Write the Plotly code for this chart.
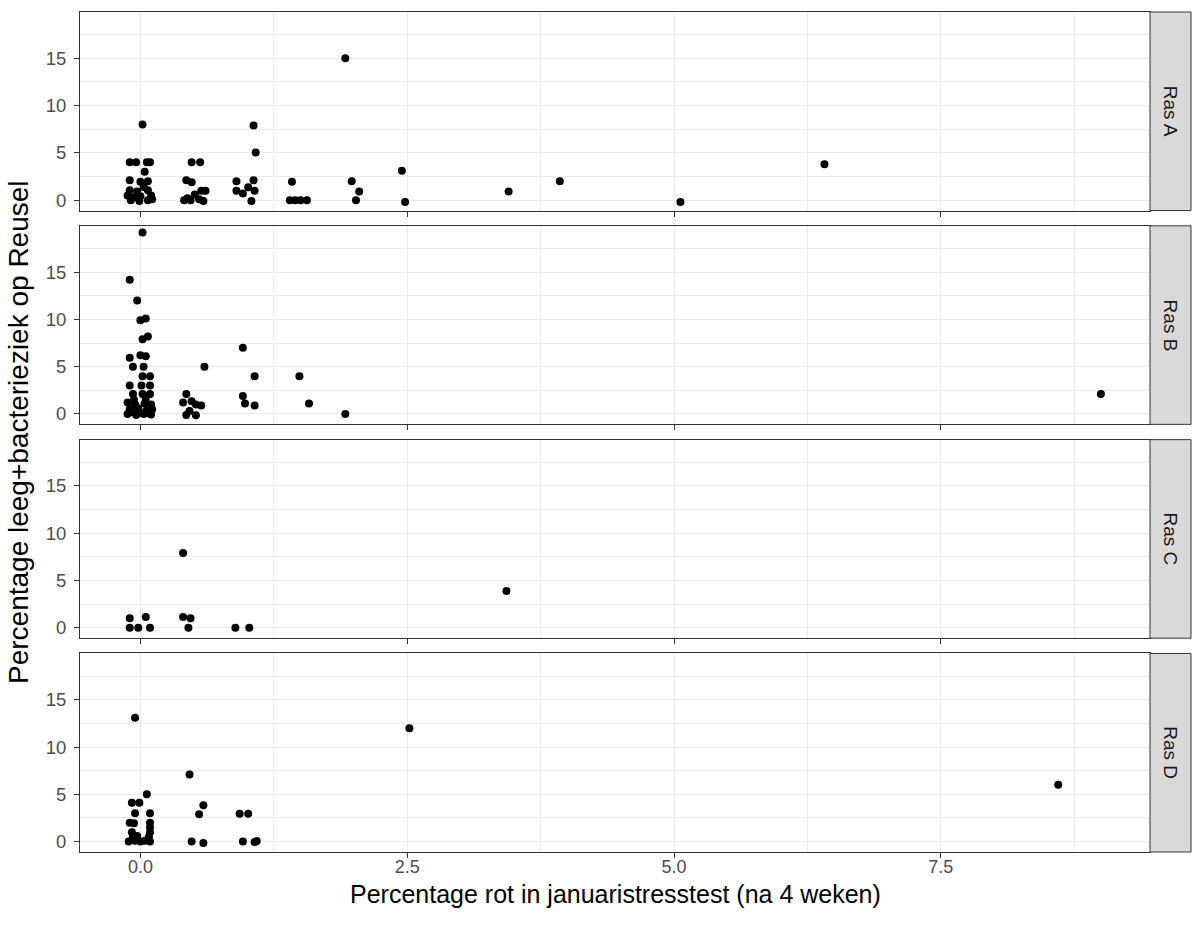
import plotly.graph_objects as go
from plotly.subplots import make_subplots

# Facet labels (one panel per variety)
ras_labels = ["Ras A", "Ras B", "Ras C", "Ras D"]

# Percentage rot (x) and percentage leeg+bacterieziek (y), jittered observations per variety
rot_a = [-0.10, -0.04, 0.06, 0.09, 0.04, 0.02, -0.10, 0.00, 0.07,
         -0.10, -0.03, 0.07, 0.10, -0.06, 0.03, -0.09, -0.01, 0.07, 0.11, 0.00, -0.12,
         0.48, 0.56, 0.43, 0.48, 0.57, 0.61, 0.41, 0.47, 0.55, 0.59, 0.51, 0.44,
         1.06, 1.08, 0.90, 1.06, 0.90, 0.96, 1.01, 1.07, 1.04,
         1.42, 1.40, 1.45, 1.50, 1.56,
         1.92, 1.98, 2.05, 2.02, 2.45, 2.48, 3.45, 3.93, 5.06, 6.41]
ziek_a = [4.0, 4.0, 4.0, 4.0, 3.0, 8.0, 2.1, 1.95, 2.0,
          1.05, 0.9, 1.05, 0.5, 0.3, 1.4, 0.0, -0.1, 0.0, 0.1, 0.4, 0.5,
          4.0, 4.0, 2.1, 1.9, 1.0, 1.0, 0.0, 0.0, 0.1, -0.1, 0.6, 0.2,
          7.9, 5.05, 2.0, 2.1, 1.0, 0.7, 1.35, 1.0, -0.1,
          1.95, 0.0, 0.0, 0.0, 0.0,
          15.0, 2.0, 0.9, 0.0, 3.1, -0.2, 0.9, 2.0, -0.2, 3.8]

rot_b = [0.02, -0.10, -0.03, 0.00, 0.05, 0.02, 0.07, -0.10, 0.00, 0.05, -0.07, 0.03,
         0.02, 0.09, -0.10, 0.01, 0.09, -0.07, 0.02, 0.09,
         -0.12, -0.05, 0.04, 0.10, -0.10, -0.02, 0.06, 0.11, -0.12, -0.04, 0.03, 0.10,
         -0.08, 0.00, 0.07, -0.06, 0.05,
         0.43, 0.40, 0.48, 0.57, 0.52, 0.43, 0.52, 0.46, 0.60,
         0.96, 1.07, 0.96, 0.98, 1.07, 1.49, 1.58, 1.92, 9.00]
ziek_b = [19.2, 14.2, 12.0, 9.9, 10.1, 7.9, 8.2, 5.95, 6.2, 6.1, 5.0, 5.0,
          4.0, 4.0, 3.0, 3.0, 3.0, 2.1, 2.1, 2.1,
          1.2, 1.0, 1.1, 1.0, 0.5, 0.6, 0.4, 0.5, 0.0, -0.1, 0.0, -0.05,
          0.2, 0.15, 0.1, 1.5, 1.6,
          2.1, 1.2, 1.35, 0.9, 1.0, -0.1, -0.15, 0.3, 5.0,
          7.0, 4.0, 1.9, 1.1, 0.9, 4.0, 1.1, 0.0, 2.1]

rot_c = [-0.10, 0.05, -0.10, -0.02, 0.09, 0.40, 0.40, 0.47, 0.45, 0.89, 1.02, 3.43]
ziek_c = [1.0, 1.15, 0.0, 0.0, 0.0, 7.9, 1.15, 1.0, 0.0, 0.0, 0.0, 3.9]

rot_d = [-0.05, 0.46, 0.06, -0.08, -0.01, 0.59, -0.05, 0.09, 0.55, 0.93, 1.01,
         -0.10, -0.06, 0.09, -0.08, 0.09, 0.09,
         -0.11, -0.05, 0.00, 0.04, 0.09, -0.07, -0.03, 0.08,
         0.48, 0.59, 0.96, 1.07, 1.09, 2.52, 8.60]
ziek_d = [13.1, 7.1, 5.0, 4.1, 4.1, 3.85, 3.0, 3.0, 2.9, 2.95, 2.95,
          2.0, 1.95, 2.0, 1.0, 1.0, 1.5,
          0.0, 0.1, 0.0, 0.1, 0.0, 0.5, 0.6, 0.5,
          0.0, -0.15, 0.0, -0.05, 0.05, 12.0, 6.0]

rot_series = [rot_a, rot_b, rot_c, rot_d]
ziek_series = [ziek_a, ziek_b, ziek_c, ziek_d]

# Axis ticks
x_ticks = [0.0, 2.5, 5.0, 7.5]
x_tick_text = ["0.0", "2.5", "5.0", "7.5"]
y_ticks = [0, 5, 10, 15]
y_tick_text = ["0", "5", "10", "15"]

x_title = "Percentage rot in januaristresstest (na 4 weken)"
y_title = "Percentage leeg+bacterieziek op Reusel"

FONT = "Liberation Sans, Arial, sans-serif"
BORDER = "#333333"
GRID = "#EBEBEB"

W, H = 1196, 926
ML, MR, MT, MB = 80, 46, 12, 74
plot_w = W - ML - MR
plot_h = H - MT - MB
gap_px = 15.3

fig = make_subplots(rows=4, cols=1, shared_xaxes=True,
                    vertical_spacing=gap_px / plot_h)

for i, (xs, ys) in enumerate(zip(rot_series, ziek_series)):
    fig.add_trace(go.Scatter(x=xs, y=ys, mode="markers",
                             marker=dict(color="black", size=8, line=dict(width=0)),
                             showlegend=False, hoverinfo="skip"),
                  row=i + 1, col=1)

fig.update_xaxes(range=[-0.566, 9.46], tickmode="array", tickvals=x_ticks,
                 ticktext=x_tick_text, showgrid=True, gridcolor=GRID, gridwidth=1.1,
                 minor=dict(dtick=1.25, tick0=0, showgrid=True, gridcolor=GRID,
                            gridwidth=0.6, ticks=""),
                 zeroline=False, showline=True, mirror=True, linecolor=BORDER,
                 linewidth=1, ticks="outside", ticklen=5, tickcolor=BORDER,
                 tickwidth=1, tickfont=dict(family=FONT, size=18, color="#4D4D4D"),
                 ticklabelstandoff=-7)
fig.update_yaxes(range=[-1.1, 19.9], tickmode="array", tickvals=y_ticks,
                 ticktext=y_tick_text, showgrid=True, gridcolor=GRID, gridwidth=1.1,
                 minor=dict(dtick=2.5, tick0=0, showgrid=True, gridcolor=GRID,
                            gridwidth=0.6, ticks=""),
                 zeroline=False, showline=True, mirror=True, linecolor=BORDER,
                 linewidth=1, ticks="outside", ticklen=5, tickcolor=BORDER,
                 tickwidth=1, tickfont=dict(family=FONT, size=18.5, color="#4D4D4D"),
                 ticklabelstandoff=4)

# Facet strips on the right side
strip_x0 = 1.0
strip_x1 = (1191 - ML) / plot_w
for i, lab in enumerate(ras_labels):
    yref = "y domain" if i == 0 else f"y{i + 1} domain"
    fig.add_shape(type="rect", xref="paper", yref=yref, x0=strip_x0, x1=strip_x1,
                  y0=0, y1=1, fillcolor="#D9D9D9", line=dict(color=BORDER, width=1),
                  layer="above")
    fig.add_annotation(xref="paper", yref=yref, x=(strip_x0 + strip_x1) / 2, y=0.5,
                       text=lab, showarrow=False, textangle=90,
                       xanchor="center", yanchor="middle",
                       font=dict(family=FONT, size=19, color="#1A1A1A"))

# Axis titles
fig.add_annotation(xref="paper", yref="paper", x=0.5, y=(852 - 894) / plot_h,
                   text=x_title, showarrow=False, xanchor="center", yanchor="middle",
                   font=dict(family=FONT, size=25, color="black"))
fig.add_annotation(xref="paper", yref="paper", x=(18 - ML) / plot_w, y=0.5,
                   text=y_title, showarrow=False, textangle=-90,
                   xanchor="center", yanchor="middle",
                   font=dict(family=FONT, size=28, color="black"))

fig.update_layout(width=W, height=H, margin=dict(l=ML, r=MR, t=MT, b=MB),
                  paper_bgcolor="white", plot_bgcolor="white",
                  font=dict(family=FONT))

fig.write_html("out.html")
